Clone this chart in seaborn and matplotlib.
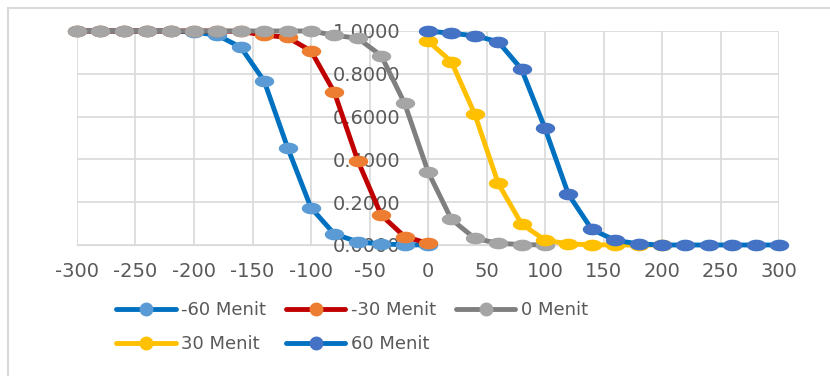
import numpy as np
import pandas as pd
import seaborn as sns
from matplotlib import pyplot as plt
from matplotlib.path import Path
from matplotlib.lines import Line2D
import matplotlib.patches as mpatches

sns.set_style('white')
plt.rcParams['font.family'] = ['DejaVu Sans']
plt.rcParams['axes.unicode_minus'] = False

# series data
x_m60 = [-300, -280, -260, -240, -220, -200, -180, -160, -140, -120, -100, -80, -60, -40, -20, 0]
y_m60 = [1.0, 1.0, 1.0, 1.0, 1.0, 0.995, 0.98, 0.924, 0.766, 0.455, 0.174, 0.051, 0.015, 0.005, 0.001, 0.0]

x_m30 = [-300, -280, -260, -240, -220, -200, -180, -160, -140, -120, -100, -80, -60, -40, -20, 0]
y_m30 = [1.0, 1.0, 1.0, 1.0, 1.0, 1.0, 1.0, 0.998, 0.981, 0.97, 0.907, 0.713, 0.394, 0.14, 0.039, 0.008]

x_0 = [-300, -280, -260, -240, -220, -200, -180, -160, -140, -120, -100, -80, -60, -40, -20, 0, 20, 40, 60, 80, 100]
y_0 = [1.0, 1.0, 1.0, 1.0, 1.0, 1.0, 1.0, 1.0, 1.0, 1.0, 1.0, 0.98, 0.966, 0.885, 0.662, 0.343, 0.12, 0.031, 0.008, 0.002, 0.0]

x_30 = [0, 20, 40, 60, 80, 100, 120, 140, 160, 180, 200]
y_30 = [0.953, 0.857, 0.611, 0.288, 0.098, 0.023, 0.005, 0.001, 0.0, 0.0, 0.0]

x_60 = [0, 20, 40, 60, 80, 100, 120, 140, 160, 180, 200, 220, 240, 260, 280, 300]
y_60 = [1.0, 0.989, 0.978, 0.95, 0.821, 0.545, 0.237, 0.073, 0.022, 0.005, 0.0, 0.0, 0.0, 0.0, 0.0, 0.0]

labels = ['-60 Menit', '-30 Menit', '0 Menit', '30 Menit', '60 Menit']
line_colors = ['#0070C0', '#C00000', '#7F7F7F', '#FFC000', '#0070C0']
marker_colors = ['#5B9BD5', '#ED7D31', '#A5A5A5', '#FFC000', '#4472C4']

x_ticks = [-300, -250, -200, -150, -100, -50, 0, 50, 100, 150, 200, 250, 300]
y_ticks = [0.0, 0.2, 0.4, 0.6, 0.8, 1.0]

series = [(x_m60, y_m60), (x_m30, y_m30), (x_0, y_0), (x_30, y_30), (x_60, y_60)]

# flattened (excel-like) marker shape
t = np.linspace(0, 2 * np.pi, 40)
ellipse = Path(np.column_stack([np.cos(t), 0.6 * np.sin(t)]), closed=True)

grid_col = '#D9D9D9'
text_col = '#595959'

fig = plt.figure(figsize=(8.3, 3.76), dpi=100)
ax = fig.add_axes([77 / 830, 1 - 245 / 376, 702 / 830, 214 / 376])

for (xs, ys), lab, lc, mc in zip(series, labels, line_colors, marker_colors):
    df = pd.DataFrame({'x': xs, 'y': ys})
    sns.lineplot(data=df, x='x', y='y', ax=ax, color=lc, linewidth=3.5,
                 marker=ellipse, markersize=14, markerfacecolor=mc,
                 markeredgecolor=mc, markeredgewidth=0, clip_on=False,
                 sort=False, estimator=None)

ax.set_xlim(-300, 300)
ax.set_ylim(0, 1)
ax.set_xticks(x_ticks)
ax.set_yticks(y_ticks)
ax.set_yticklabels([f'{v:.4f}' for v in y_ticks])
ax.grid(True, color=grid_col, linewidth=1.2)
ax.set_axisbelow(True)

for s in ['top', 'right']:
    ax.spines[s].set_visible(False)
ax.spines['left'].set_position(('data', 0))
ax.spines['left'].set_color(grid_col)
ax.spines['bottom'].set_color(grid_col)
ax.spines['left'].set_zorder(0.5)
ax.spines['bottom'].set_zorder(0.5)

ax.tick_params(axis='both', length=0, labelsize=14, labelcolor=text_col)
ax.tick_params(axis='y', pad=20)
ax.tick_params(axis='x', pad=12)
ax.set_xlabel('')
ax.set_ylabel('')

# legend is filled column by column, so reorder to read row by row
order = [0, 3, 1, 4, 2]
handles = [Line2D([0], [0], color=line_colors[i], lw=3.5, marker='o', markersize=9,
                  markerfacecolor=marker_colors[i], markeredgecolor=marker_colors[i])
           for i in order]
fig.legend(handles=handles, labels=[labels[i] for i in order], loc='upper left',
           bbox_to_anchor=(116 / 830, 1 - 301 / 376), ncol=3, frameon=False,
           fontsize=13, labelcolor=text_col, handlelength=3.3, handletextpad=0.3,
           columnspacing=1.1, labelspacing=0.9, borderpad=0, borderaxespad=0)

# chart border
fig.patches.append(mpatches.Rectangle((8 / 830, -0.1), 1.1, 1.1 - 8 / 376,
                                      transform=fig.transFigure, fill=False,
                                      edgecolor=grid_col, linewidth=1.5))

plt.savefig('out.png')
plt.close()
